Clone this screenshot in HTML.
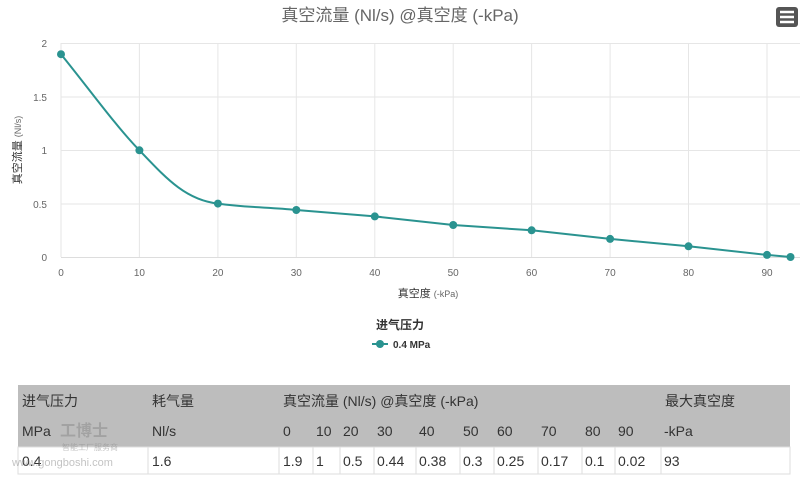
<!DOCTYPE html>
<html><head><meta charset="utf-8"><style>
body{margin:0;background:#fff;width:800px;height:482px;overflow:hidden;font-family:"Liberation Sans","Noto Sans CJK SC",sans-serif}
</style></head><body>
<svg width="800" height="482" xmlns="http://www.w3.org/2000/svg" font-family="Liberation Sans, Noto Sans CJK SC, sans-serif">
<text x="400" y="21" text-anchor="middle" font-size="17" fill="#666">真空流量 (Nl/s) @真空度 (-kPa)</text>
<rect x="776" y="7" width="22" height="20" rx="3" fill="#555"/>
<g stroke="#fff" stroke-width="2.5"><line x1="780" y1="12" x2="794" y2="12"/><line x1="780" y1="17" x2="794" y2="17"/><line x1="780" y1="22" x2="794" y2="22"/></g>
<g stroke="#e6e6e6" stroke-width="1">
<line x1="61" y1="43.5" x2="800" y2="43.5"/><line x1="61" y1="97" x2="800" y2="97"/><line x1="61" y1="150.5" x2="800" y2="150.5"/><line x1="61" y1="204" x2="800" y2="204"/>
<line x1="61" y1="43" x2="61" y2="257"/><line x1="139.4" y1="43" x2="139.4" y2="257"/><line x1="217.9" y1="43" x2="217.9" y2="257"/><line x1="296.3" y1="43" x2="296.3" y2="257"/><line x1="374.8" y1="43" x2="374.8" y2="257"/><line x1="453.2" y1="43" x2="453.2" y2="257"/><line x1="531.6" y1="43" x2="531.6" y2="257"/><line x1="610.1" y1="43" x2="610.1" y2="257"/><line x1="688.5" y1="43" x2="688.5" y2="257"/><line x1="767" y1="43" x2="767" y2="257"/>
</g>
<line x1="61" y1="257.5" x2="800" y2="257.5" stroke="#ddd"/>
<g font-size="10" fill="#666" text-anchor="end">
<text x="47" y="47">2</text><text x="47" y="101">1.5</text><text x="47" y="154">1</text><text x="47" y="208">0.5</text><text x="47" y="261">0</text></g>
<g font-size="10" fill="#666" text-anchor="middle">
<text x="61" y="276">0</text><text x="139.4" y="276">10</text><text x="217.9" y="276">20</text><text x="296.3" y="276">30</text><text x="374.8" y="276">40</text><text x="453.2" y="276">50</text><text x="531.6" y="276">60</text><text x="610.1" y="276">70</text><text x="688.5" y="276">80</text><text x="767" y="276">90</text></g>
<text x="428" y="297" text-anchor="middle" font-size="11" fill="#333">真空度 <tspan fill="#666" font-size="9">(-kPa)</tspan></text>
<text transform="translate(21,150) rotate(-90)" text-anchor="middle" font-size="11" fill="#333">真空流量 <tspan fill="#666" font-size="9">(Nl/s)</tspan></text>
<path d="M61,54.2 C90,90 115,125 139.4,150.3 C165,177 185,200 217.9,203.6 C250,208 270,207 296.3,210 L374.8,216.4 L453.2,225 L531.6,230.3 L610.1,238.9 L688.5,246.3 L767,254.9 L790.5,257" fill="none" stroke="#2a9390" stroke-width="2"/>
<g fill="#2a9390">
<circle cx="61" cy="54.2" r="4"/><circle cx="139.4" cy="150.3" r="4"/><circle cx="217.9" cy="203.6" r="4"/><circle cx="296.3" cy="210" r="4"/><circle cx="374.8" cy="216.4" r="4"/><circle cx="453.2" cy="225" r="4"/><circle cx="531.6" cy="230.3" r="4"/><circle cx="610.1" cy="238.9" r="4"/><circle cx="688.5" cy="246.3" r="4"/><circle cx="767" cy="254.9" r="4"/><circle cx="790.5" cy="257" r="4"/></g>
<text x="400" y="329" text-anchor="middle" font-size="12" font-weight="bold" fill="#333">进气压力</text>
<line x1="372" y1="344" x2="388" y2="344" stroke="#2a9390" stroke-width="2"/><circle cx="380" cy="344" r="4" fill="#2a9390"/>
<text x="393" y="348" font-size="10" font-weight="bold" fill="#333">0.4 MPa</text>
<rect x="18" y="385" width="772" height="62" fill="#bdbdbd"/>
<rect x="18" y="447" width="772" height="27" fill="#fff" stroke="#ddd"/>
<g stroke="#ddd"><line x1="148" y1="447" x2="148" y2="474"/><line x1="279" y1="447" x2="279" y2="474"/><line x1="313" y1="447" x2="313" y2="474"/><line x1="340" y1="447" x2="340" y2="474"/><line x1="374" y1="447" x2="374" y2="474"/><line x1="416" y1="447" x2="416" y2="474"/><line x1="460" y1="447" x2="460" y2="474"/><line x1="494" y1="447" x2="494" y2="474"/><line x1="538" y1="447" x2="538" y2="474"/><line x1="582" y1="447" x2="582" y2="474"/><line x1="615" y1="447" x2="615" y2="474"/><line x1="661" y1="447" x2="661" y2="474"/></g>
<g font-size="14" fill="#333">
<text x="22" y="406">进气压力</text><text x="152" y="406">耗气量</text><text x="283" y="406">真空流量 (Nl/s) @真空度 (-kPa)</text><text x="665" y="406">最大真空度</text>
<text x="22" y="436">MPa</text><text x="152" y="436">Nl/s</text><text x="283" y="436">0</text><text x="316" y="436">10</text><text x="343" y="436">20</text><text x="377" y="436">30</text><text x="419" y="436">40</text><text x="463" y="436">50</text><text x="497" y="436">60</text><text x="541" y="436">70</text><text x="585" y="436">80</text><text x="618" y="436">90</text><text x="664" y="436">-kPa</text>
<text x="22" y="466">0.4</text><text x="152" y="466">1.6</text><text x="283" y="466">1.9</text><text x="316" y="466">1</text><text x="343" y="466">0.5</text><text x="377" y="466">0.44</text><text x="419" y="466">0.38</text><text x="463" y="466">0.3</text><text x="497" y="466">0.25</text><text x="541" y="466">0.17</text><text x="585" y="466">0.1</text><text x="618" y="466">0.02</text><text x="664" y="466">93</text></g>
<g opacity="0.5" fill="#888"><text x="60" y="436" font-size="16" font-weight="bold">工博士</text><text x="62" y="450" font-size="8">智能工厂服务商</text><text x="12" y="466" font-size="11">www.gongboshi.com</text></g>
</svg>
</body></html>
